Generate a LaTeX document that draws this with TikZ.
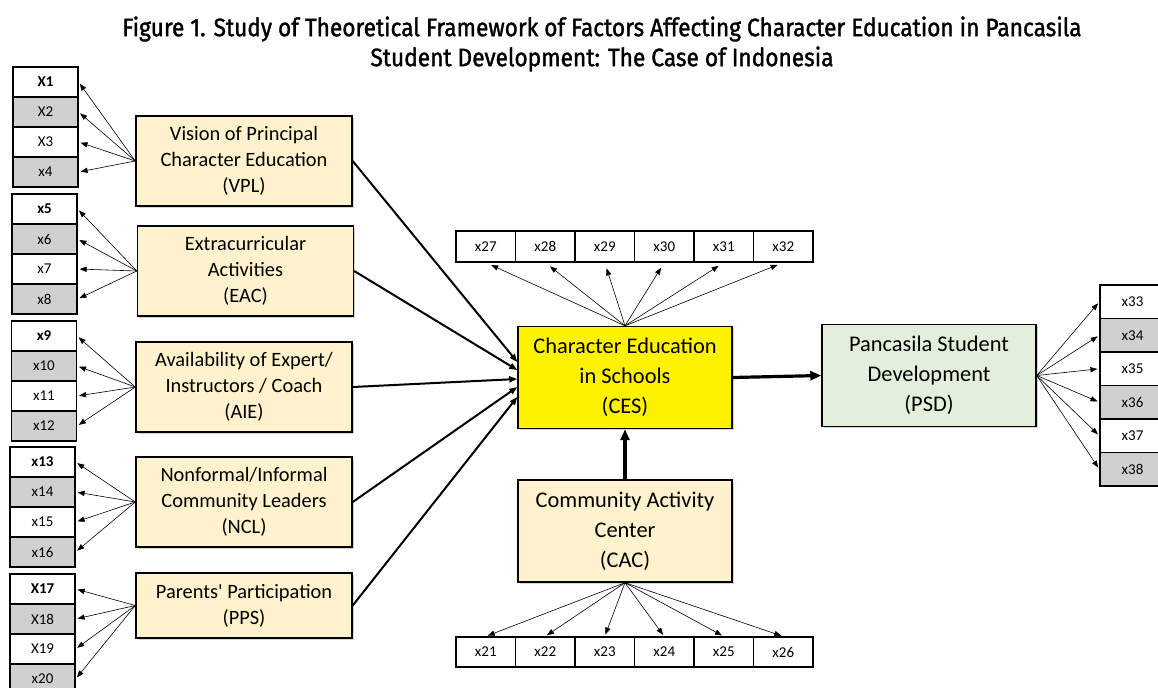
\documentclass[tikz,border=0pt]{standalone}
\usepackage{fontspec}
\setmainfont{Carlito}
\newfontfamily\titlefont[FakeStretch=0.9,FakeBold=1.4]{Fira Sans}
\usetikzlibrary{arrows.meta,shadows}
\definecolor{tan}{HTML}{FFF2CC}
\definecolor{psdgreen}{HTML}{E2EFDA}
\definecolor{cellgray}{HTML}{D0D0D0}

\begin{document}
\begin{tikzpicture}[x=0.5pt,y=-0.5pt,
        ind/.style={draw,line width=0.6pt,minimum width=32.5pt,minimum height=15pt,
            inner sep=0pt,font=\fontsize{7.5}{8}\selectfont},
        indg/.style={ind,fill=cellgray},
        row/.style={ind,minimum width=29.75pt},
        con/.style={draw,line width=0.7pt,fill=tan,minimum width=108pt,minimum height=45pt,
            align=center,inner sep=1pt,font=\fontsize{10.2}{13}\selectfont,
            drop shadow={shadow xshift=0.8pt,shadow yshift=-0.8pt,opacity=0.35}},
        big/.style={con,minimum width=107pt,minimum height=51pt,font=\fontsize{11.2}{15}\selectfont},
        load/.style={-{Triangle[length=3.5pt,width=2.6pt]},line width=0.3pt,shorten >=1pt},
        effect/.style={-{Triangle[length=4pt,width=3pt]},line width=1pt},
        main/.style={-{Triangle[length=5.5pt,width=4.5pt]},line width=1.6pt}]
	\useasboundingbox (0,0) rectangle (1158,687);

	\node[font=\titlefont\fontsize{12.6}{15}\selectfont,align=center] (title) at (602,44)
        {Figure 1. Study of Theoretical Framework of Factors Affecting Character Education in Pancasila\\
        Student Development: The Case of Indonesia};

	\node[con] (vpl) at (244,161) {Vision of Principal\\Character Education\\(VPL)};
	\node[con] (eac) at (245.5,271) {Extracurricular\\Activities\\(EAC)};
	\node[con] (aie) at (244,387) {Availability of Expert/\\Instructors / Coach\\(AIE)};
	\node[con] (ncl) at (244,502) {Nonformal/Informal\\Community Leaders\\(NCL)};
	\node[con,minimum height=32.5pt] (pps) at (244,605.5) {Parents\textquotesingle{} Participation\\(PPS)};

	\node[big,fill=yellow] (ces) at (625,377.5) {Character Education\\in Schools\\(CES)};
	\node[big] (cac) at (625,531) {Community Activity\\Center\\(CAC)};
	\node[big,fill=psdgreen] (psd) at (929,375.5) {Pancasila Student\\Development\\(PSD)};

	\foreach \lab/\st [count=\i] in {{\textbf{X1}}/ind,X2/indg,X3/ind,x4/indg}
	    \node[\st] (v\i) at (45.5,{52+30*\i}) {\lab};
	\foreach \lab/\st [count=\i] in {{\textbf{x5}}/ind,x6/indg,x7/ind,x8/indg}
	    \node[\st] (e\i) at (44.5,{179+30*\i}) {\lab};
	\foreach \lab/\st [count=\i] in {{\textbf{x9}}/ind,x10/indg,x11/ind,x12/indg}
	    \node[\st] (a\i) at (44,{306+30*\i}) {\lab};
	\foreach \lab/\st [count=\i] in {{\textbf{x13}}/ind,x14/indg,x15/ind,x16/indg}
	    \node[\st] (n\i) at (42.5,{432+30*\i}) {\lab};
	\foreach \lab/\st [count=\i] in {{\textbf{X17}}/ind,X18/indg,X19/ind,x20/indg}
	    \node[\st] (p\i) at (42.5,{559+30*\i}) {\lab};
	\foreach \lab/\st [count=\i] in {x33/ind,x34/indg,x35/ind,x36/indg,x37/ind,x38/indg}
	    \node[\st,minimum height=16.75pt] (s\i) at (1132.5,{268.25+33.5*\i}) {\lab};
	\foreach \lab [count=\i] in {x27,x28,x29,x30,x31,x32}
	    \node[row,minimum height=15.5pt] (t\i) at ({426.25+59.5*\i},246.5) {\lab};
	\foreach \lab [count=\i] in {x21,x22,x23,x24,x25,x26}
	    \node[row] (b\i) at ({426.25+59.5*\i},652) {\lab};

	\foreach \i in {1,...,4} {
	    \draw[load] (vpl.west) -- (v\i.east);
	    \draw[load] (eac.west) -- (e\i.east);
	    \draw[load] (aie.west) -- (a\i.east);
	    \draw[load] (ncl.west) -- (n\i.east);
	    \draw[load] (pps.west) -- (p\i.east);
	}
	\foreach \i in {1,...,6} {
	    \draw[load,shorten >=3pt] (ces.north) -- (t\i.south);
	    \draw[load] (cac.south) -- (b\i.north);
	    \draw[load] (psd.east) -- (s\i.west);
	}

	\draw[effect] (vpl.east) -- ([yshift=7.75pt]ces.west);
	\draw[effect] (eac.east) -- ([yshift=3.75pt]ces.west);
	\draw[effect] (aie.east) -- ([yshift=-0.75pt]ces.west);
	\draw[effect] (ncl.east) -- ([yshift=-4.75pt]ces.west);
	\draw[effect] (pps.east) -- ([yshift=-9.75pt]ces.west);

	\draw[main] (cac.north) -- (ces.south);
	\draw[main] (ces.east) -- (psd.west);
\end{tikzpicture}
\end{document}
